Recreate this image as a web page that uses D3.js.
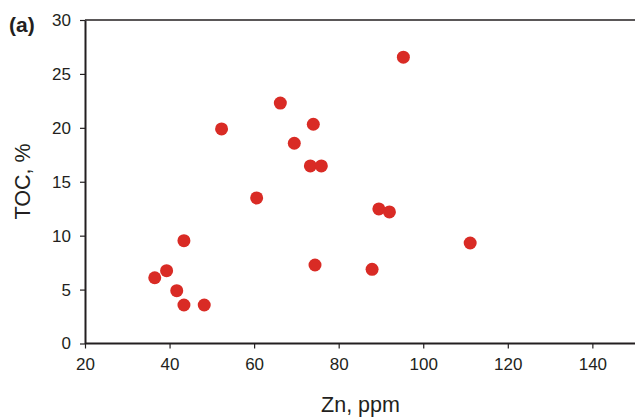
<!DOCTYPE html>
<html>
<head>
<meta charset="utf-8">
<script src="https://cdn.jsdelivr.net/npm/d3@7"></script>
<style>
body { margin: 0; background: #fff; }
text { font-family: "Liberation Sans", Arial, sans-serif; fill: #231f20; }
</style>
</head>
<body>
<script>
// - data -
var znValues = [95.3, 66.2, 74.0, 52.3, 69.5, 73.3, 75.9, 60.6, 89.5, 92.0, 43.4, 74.4, 87.9, 39.3, 36.5, 41.7, 43.4, 48.2, 111.1];
var tocValues = [26.55, 22.3, 20.33, 19.9, 18.57, 16.47, 16.47, 13.5, 12.48, 12.2, 9.54, 7.28, 6.88, 6.75, 6.1, 4.9, 3.57, 3.57, 9.32];
var xTicks = [20, 40, 60, 80, 100, 120, 140];
var yTicks = [0, 5, 10, 15, 20, 25, 30];

var width = 635;
var height = 417;
var margin = { top: 20, left: 85, bottom: 73.5, right: 0 };

var svg = d3.select('body').append('svg')
	.attr('width', width)
	.attr('height', height);

var x = d3.scaleLinear().domain([20, 150]).range([margin.left, margin.left + 130 * 4.228]);
var y = d3.scaleLinear().domain([0, 30]).range([height - margin.bottom, margin.top]);

var axisColor = '#231f20';

// top frame line
svg.append('line')
	.attr('x1', x(20)).attr('x2', width)
	.attr('y1', y(30)).attr('y2', y(30))
	.attr('stroke', axisColor).attr('stroke-width', 1.5);

var gx = svg.append('g')
	.attr('transform', 'translate(0,' + y(0) + ')')
	.call(d3.axisBottom(x).tickValues(xTicks).tickSize(5).tickPadding(9).tickSizeOuter(0));

var gy = svg.append('g')
	.attr('transform', 'translate(' + x(20) + ',0)')
	.call(d3.axisLeft(y).tickValues(yTicks).tickSize(5).tickPadding(9).tickSizeOuter(0));

[gx, gy].forEach(function(g) {
	g.select('.domain').attr('stroke', axisColor).attr('stroke-width', 2);
	g.selectAll('.tick line').attr('stroke', axisColor).attr('stroke-width', 1.2);
	g.selectAll('.tick text').style('font-size', '17px').attr('fill', axisColor);
});
gx.select('.domain').attr('d', 'M' + x(20) + ',0H' + width);

// points
svg.append('g').selectAll('circle')
	.data(znValues.map(function(d, i) { return { zn: d, toc: tocValues[i] }; }))
	.enter().append('circle')
		.attr('cx', function(d) { return x(d.zn); })
		.attr('cy', function(d) { return y(d.toc); })
		.attr('r', 6.5)
		.attr('fill', '#d92b25');

// labels
svg.append('text')
	.attr('x', 360.5).attr('y', 412)
	.attr('text-anchor', 'middle')
	.style('font-size', '21.5px')
	.text('Zn, ppm');

svg.append('text')
	.attr('transform', 'translate(29.5,181.5) rotate(-90)')
	.attr('text-anchor', 'middle')
	.style('font-size', '21.5px')
	.text('TOC, %');

svg.append('text')
	.attr('x', 9).attr('y', 31.5)
	.style('font-size', '21px')
	.style('font-weight', 'bold')
	.text('(a)');
</script>
</body>
</html>
